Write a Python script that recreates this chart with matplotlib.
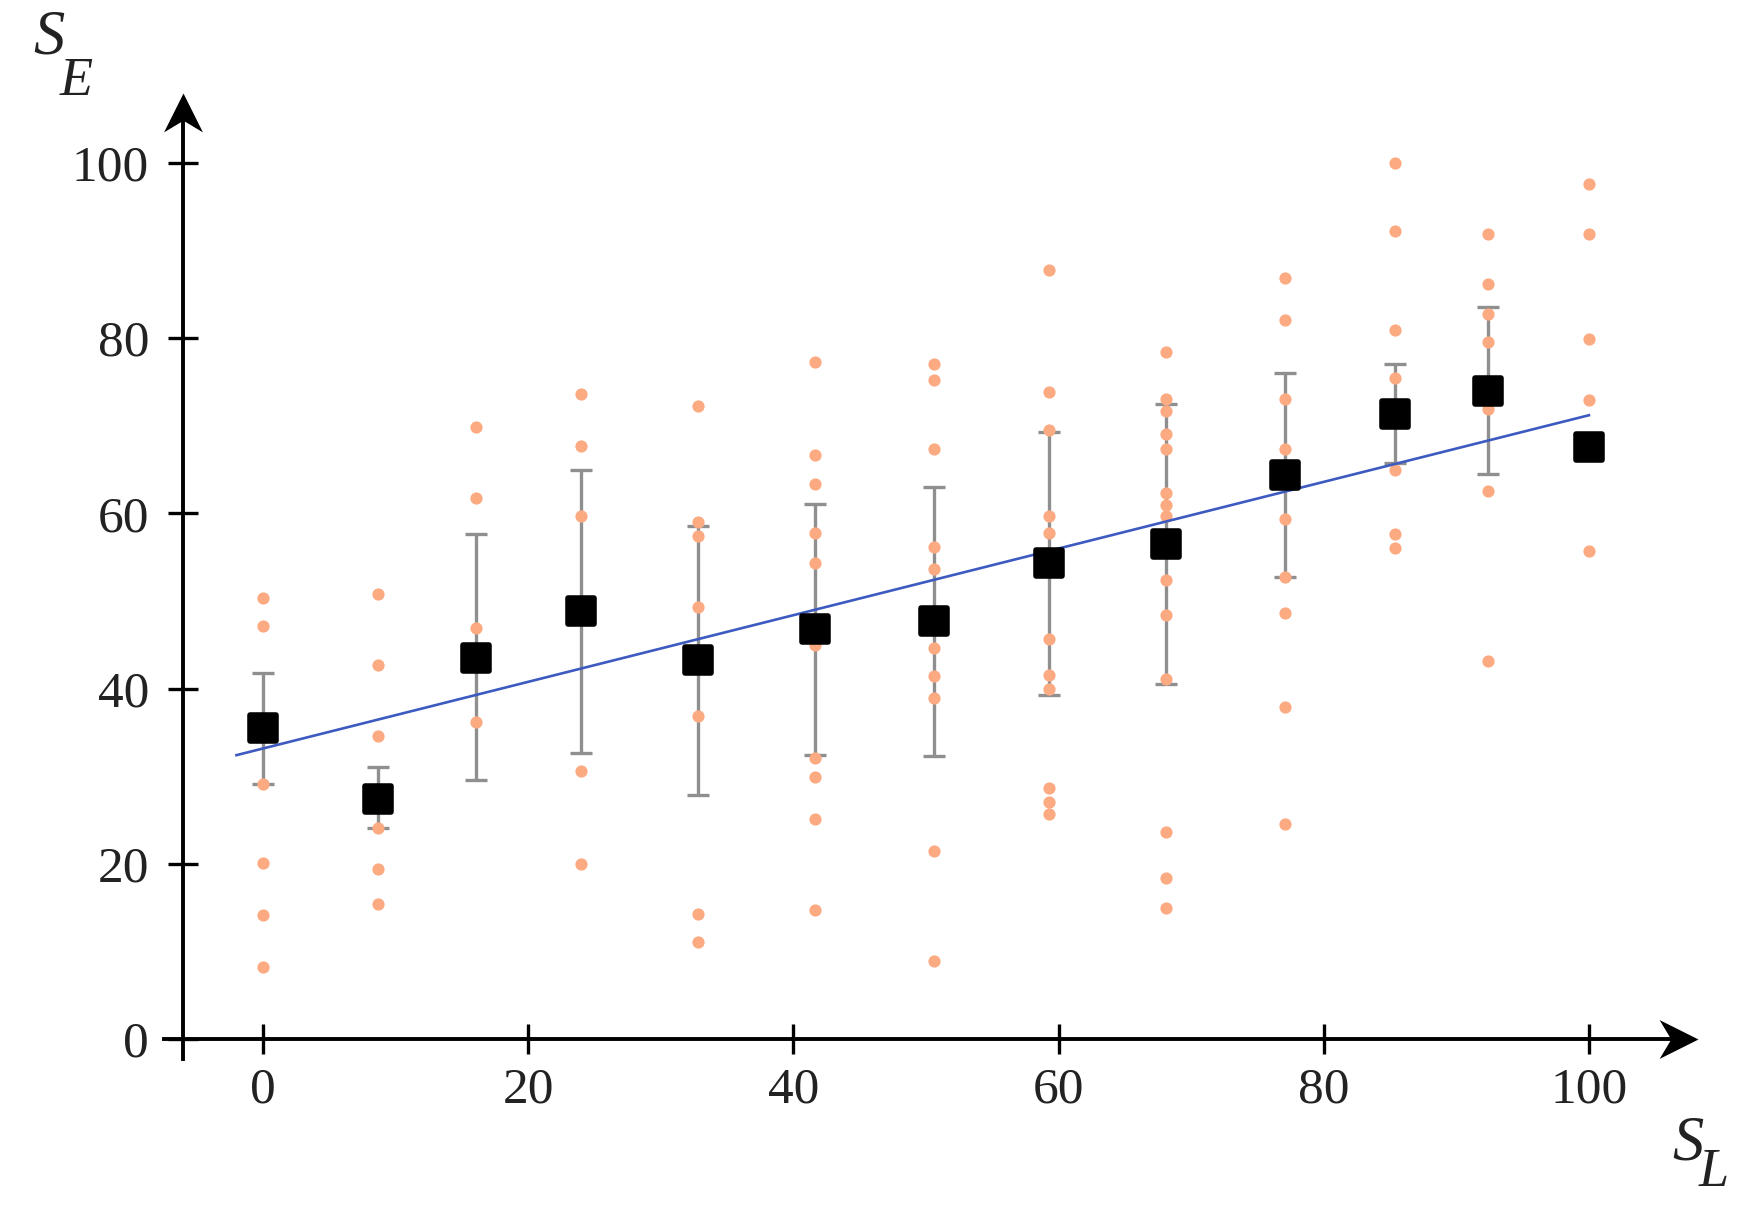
import matplotlib
matplotlib.use("Agg")
import matplotlib.pyplot as plt
from matplotlib.path import Path
from matplotlib.markers import MarkerStyle

# ---------------- data ----------------
x_groups = [0, 8.7, 16.1, 24.0, 32.8, 41.6, 50.6, 59.3, 68.1, 77.1, 85.4, 92.4, 100]
means = [35.5, 27.4, 43.5, 48.9, 43.3, 46.8, 47.7, 54.3, 56.5, 64.4, 71.3, 74.0, 67.6]
err_upper = [6.3, 3.7, 14.1, 16.1, 15.2, 14.3, 15.3, 15.0, 16.0, 11.6, 5.7, 9.6]
err_lower = [6.4, 3.3, 13.9, 16.3, 15.4, 14.4, 15.4, 15.0, 16.0, 11.7, 5.6, 9.5]

dot_values = [
    [50.3, 47.1, 29.1, 20.1, 14.1, 8.2],
    [50.8, 42.7, 34.6, 24.1, 19.4, 15.4],
    [69.9, 61.7, 46.9, 36.2],
    [73.6, 67.7, 59.7, 30.6, 20.0],
    [72.2, 59.0, 57.4, 49.3, 36.9, 14.3, 11.1],
    [77.3, 66.7, 63.3, 57.8, 54.3, 45.0, 32.1, 29.9, 25.1, 14.7],
    [77.0, 75.2, 67.3, 56.2, 53.6, 44.6, 41.4, 38.9, 21.5, 8.9],
    [87.8, 73.9, 69.5, 59.7, 57.8, 45.7, 41.6, 40.0, 28.6, 27.1, 25.7],
    [78.4, 73.0, 71.7, 69.0, 67.3, 62.3, 61.0, 59.7, 52.4, 48.4, 41.1, 23.6, 18.4, 15.0],
    [86.9, 82.1, 73.0, 67.3, 59.4, 52.7, 48.6, 37.9, 24.5],
    [100.0, 92.2, 80.9, 75.5, 64.9, 57.6, 56.0],
    [91.9, 86.2, 82.7, 79.6, 71.9, 62.6, 43.1],
    [97.6, 91.9, 79.9, 72.9, 55.7],
]

fit_x = [-2, 100]
fit_y = [32.4, 71.2]

tick_values = [0, 20, 40, 60, 80, 100]
tick_labels = ["0", "20", "40", "60", "80", "100"]

# ---------------- style ----------------
plt.rcParams["font.family"] = ["Liberation Serif", "DejaVu Serif"]

ORANGE = "#FBAA82"
BLUE = "#3D5AC0"
BAR = "#8F8F8F"
CAP = "#505050"
TXT = "#222222"

W, H = 1757, 1208
fig = plt.figure(figsize=(W / 100, H / 100), dpi=100)
ax = fig.add_axes([0.09308, 0.1145, 0.87542, 0.8123])
ax.set_xlim(-7.5, 108.5)
ax.set_ylim(-3.5, 108.5)

for s in ["top", "right"]:
    ax.spines[s].set_visible(False)
ax.spines["left"].set_position(("data", -6.03))
ax.spines["bottom"].set_position(("data", 0))
ax.spines["left"].set_bounds(-2.3, 106.0)
ax.spines["bottom"].set_bounds(-7.5, 106.5)
for s in ["left", "bottom"]:
    ax.spines[s].set_linewidth(2.8)
    ax.spines[s].set_color("black")

ax.set_xticks(tick_values)
ax.set_xticklabels(tick_labels)
ax.set_yticks(tick_values)
ax.set_yticklabels(tick_labels)
ax.tick_params(direction="inout", length=21, width=2.4, color="black",
               labelsize=37, labelcolor=TXT)
ax.tick_params(axis="x", pad=10)
ax.tick_params(axis="y", pad=14)

# arrow heads
right_arrow = Path([(0, 0), (-1, 0.5), (-0.7, 0), (-1, -0.5), (0, 0)],
                   [Path.MOVETO, Path.LINETO, Path.LINETO, Path.LINETO, Path.CLOSEPOLY])
up_arrow = Path([(0, 0), (0.5, -1), (0, -0.7), (-0.5, -1), (0, 0)],
                [Path.MOVETO, Path.LINETO, Path.LINETO, Path.LINETO, Path.CLOSEPOLY])
ax.plot([108.2], [0], marker=right_arrow, ms=56, color="black", mew=0,
        clip_on=False, zorder=6)
ax.plot([-6.03], [108.0], marker=up_arrow, ms=56, color="black", mew=0,
        clip_on=False, zorder=6)

# error bars
eb = ax.errorbar(x_groups[:12], means[:12], yerr=[err_lower, err_upper], fmt="none",
                 ecolor=BAR, elinewidth=2.4, capsize=8, capthick=2.4, zorder=2)
for c in eb[1]:
    c.set_color(CAP)

# individual points
for xg, vals in zip(x_groups, dot_values):
    ax.plot([xg] * len(vals), vals, "o", ms=8.8, color=ORANGE, mec="none", zorder=3)

# regression line
ax.plot(fit_x, fit_y, color=BLUE, lw=1.9, zorder=4)

# means
sq = MarkerStyle("s", joinstyle="round")
ax.plot(x_groups, means, linestyle="none", marker=sq, markersize=19,
        mfc="black", mec="black", mew=4, zorder=5)

# axis labels (italic S with large subscript)
def px(x, y):
    return x / W, 1 - y / H

fig.text(*px(33, 54), "S", fontsize=45, style="italic", ha="left", va="baseline", color=TXT)
fig.text(*px(60, 95), "E", fontsize=39, style="italic", ha="left", va="baseline", color=TXT)
fig.text(*px(1672, 1160), "S", fontsize=45, style="italic", ha="left", va="baseline", color=TXT)
fig.text(*px(1699, 1186), "L", fontsize=39, style="italic", ha="left", va="baseline", color=TXT)

fig.savefig("out.png", dpi=100)
